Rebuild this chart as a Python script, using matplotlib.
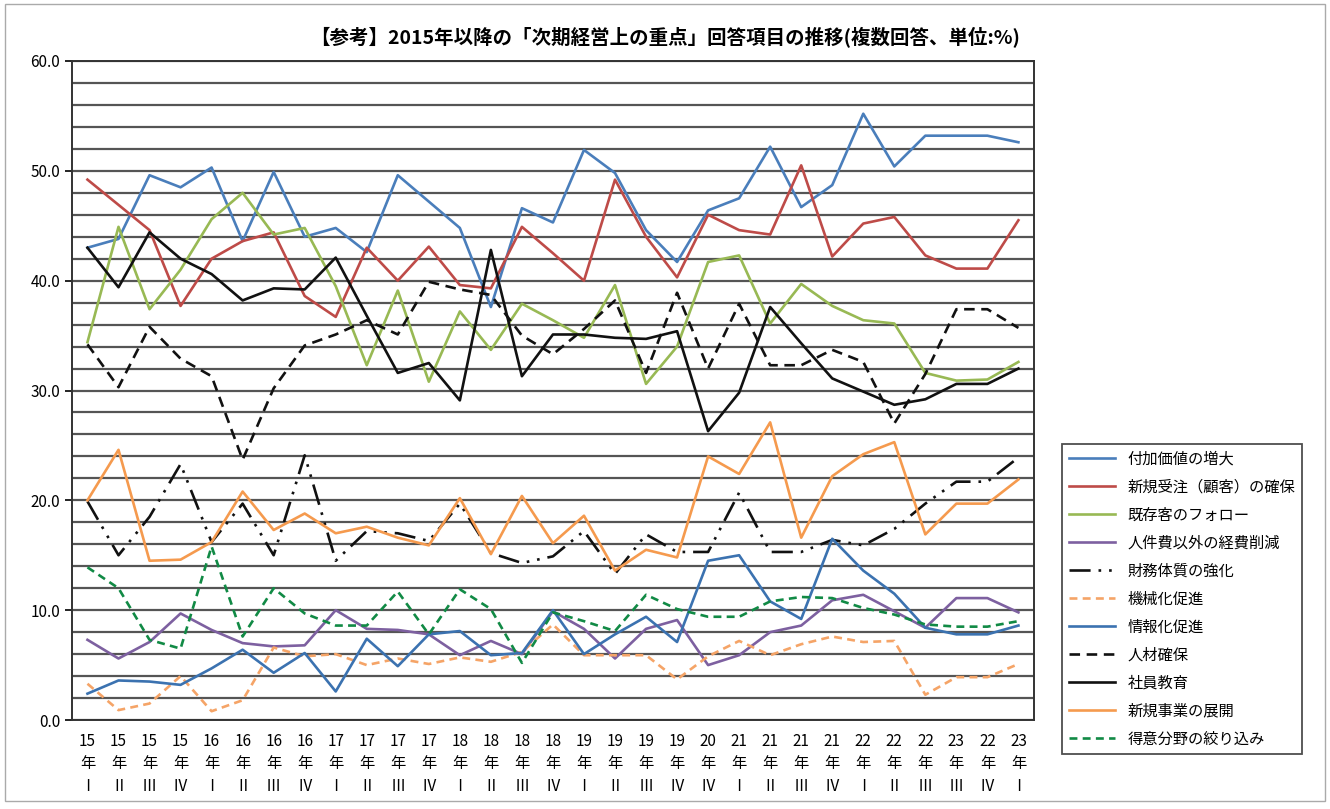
import matplotlib
matplotlib.use('Agg')
import matplotlib.pyplot as plt
import numpy as np

plt.rcParams['font.family'] = ['Noto Sans CJK JP', 'DejaVu Sans']

# 期（横軸）
years = ['15', '15', '15', '15', '16', '16', '16', '16', '17', '17', '17', '17',
         '18', '18', '18', '18', '19', '19', '19', '19', '20', '21', '21', '21',
         '21', '22', '22', '22', '23', '22', '23']
quarters = ['Ⅰ', 'Ⅱ', 'Ⅲ', 'Ⅳ', 'Ⅰ', 'Ⅱ', 'Ⅲ', 'Ⅳ', 'Ⅰ', 'Ⅱ', 'Ⅲ', 'Ⅳ',
            'Ⅰ', 'Ⅱ', 'Ⅲ', 'Ⅳ', 'Ⅰ', 'Ⅱ', 'Ⅲ', 'Ⅳ', 'Ⅳ', 'Ⅰ', 'Ⅱ', 'Ⅲ',
            'Ⅳ', 'Ⅰ', 'Ⅱ', 'Ⅲ', 'Ⅲ', 'Ⅳ', 'Ⅰ']

# 各項目（%）
fuka_kachi = [43.0, 43.8, 49.6, 48.5, 50.3, 43.6, 49.9, 44.0, 44.8, 42.6, 49.6, 47.2,
              44.8, 37.6, 46.6, 45.3, 51.9, 49.8, 44.6, 41.7, 46.4, 47.5, 52.2, 46.7,
              48.7, 55.2, 50.4, 53.2, 53.2, 53.2, 52.6]
shinki_juchu = [49.2, 46.9, 44.6, 37.7, 42.0, 43.6, 44.4, 38.6, 36.7, 43.0, 40.0, 43.1,
                39.6, 39.3, 44.9, 42.5, 40.0, 49.2, 44.0, 40.3, 46.0, 44.6, 44.2, 50.5,
                42.2, 45.2, 45.8, 42.3, 41.1, 41.1, 45.5]
kizon_kyaku = [34.4, 44.9, 37.4, 41.0, 45.6, 48.0, 44.2, 44.8, 39.5, 32.3, 39.1, 30.8,
               37.2, 33.7, 37.9, 36.4, 34.8, 39.6, 30.6, 34.0, 41.7, 42.3, 36.1, 39.7,
               37.7, 36.4, 36.1, 31.6, 30.9, 31.0, 32.6]
keihi_sakugen = [7.3, 5.6, 7.1, 9.7, 8.2, 7.0, 6.7, 6.8, 10.0, 8.3, 8.2, 7.8,
                 5.9, 7.2, 6.0, 9.9, 8.3, 5.6, 8.3, 9.1, 5.0, 5.9, 8.0, 8.6,
                 10.9, 11.4, 9.9, 8.4, 11.1, 11.1, 9.8]
zaimu = [19.9, 15.0, 18.5, 23.3, 16.2, 19.7, 15.0, 24.1, 14.5, 17.2, 17.0, 16.3,
         19.7, 15.2, 14.3, 14.9, 17.2, 13.3, 16.9, 15.3, 15.3, 20.7, 15.3, 15.3,
         16.4, 15.9, 17.4, 19.7, 21.7, 21.7, 23.9]
kikaika = [3.3, 0.9, 1.5, 4.0, 0.8, 1.8, 6.6, 5.8, 6.0, 5.0, 5.6, 5.1,
           5.7, 5.3, 6.2, 8.7, 5.9, 5.9, 5.9, 3.7, 5.8, 7.2, 5.9, 6.9,
           7.6, 7.1, 7.2, 2.3, 3.9, 3.9, 5.1]
johoka = [2.4, 3.6, 3.5, 3.2, 4.7, 6.4, 4.3, 6.1, 2.6, 7.4, 4.9, 7.8,
          8.1, 5.9, 6.1, 10.0, 6.0, 7.8, 9.4, 7.1, 14.5, 15.0, 10.8, 9.2,
          16.5, 13.6, 11.5, 8.4, 7.8, 7.8, 8.6]
jinzai = [34.2, 30.3, 35.8, 32.9, 31.3, 23.7, 30.2, 34.1, 35.1, 36.4, 35.1, 39.9,
          39.2, 38.7, 35.0, 33.3, 35.6, 38.2, 31.6, 38.9, 32.0, 37.9, 32.3, 32.3,
          33.7, 32.6, 27.0, 31.5, 37.4, 37.4, 35.7]
shain_kyoiku = [43.0, 39.4, 44.4, 42.0, 40.6, 38.2, 39.3, 39.2, 42.1, 36.8, 31.6, 32.5,
                29.1, 42.8, 31.3, 35.1, 35.1, 34.8, 34.7, 35.4, 26.3, 29.8, 37.6, 34.3,
                31.1, 29.9, 28.7, 29.2, 30.6, 30.6, 32.0]
shinki_jigyo = [20.0, 24.6, 14.5, 14.6, 16.2, 20.8, 17.3, 18.8, 17.0, 17.6, 16.6, 15.9,
                20.2, 15.1, 20.4, 16.1, 18.6, 13.6, 15.5, 14.8, 24.0, 22.4, 27.1, 16.6,
                22.2, 24.2, 25.3, 16.9, 19.7, 19.7, 21.9]
tokui_bunya = [13.9, 12.0, 7.3, 6.5, 15.8, 7.6, 12.0, 9.7, 8.6, 8.6, 11.7, 7.8,
               11.9, 10.1, 5.2, 9.8, 9.0, 8.1, 11.4, 10.1, 9.4, 9.4, 10.8, 11.2,
               11.1, 10.2, 9.6, 8.7, 8.5, 8.5, 9.0]

series = [
    ('付加価値の増大', fuka_kachi, '#4a7ebb', '-'),
    ('新規受注（顧客）の確保', shinki_juchu, '#be4b48', '-'),
    ('既存客のフォロー', kizon_kyaku, '#98b954', '-'),
    ('人件費以外の経費削減', keihi_sakugen, '#7d60a0', '-'),
    ('財務体質の強化', zaimu, '#111111', (0, (8, 3, 1, 3, 1, 3))),
    ('機械化促進', kikaika, '#f5a467', (0, (3, 2))),
    ('情報化促進', johoka, '#3b72b0', '-'),
    ('人材確保', jinzai, '#111111', (0, (4, 2.5))),
    ('社員教育', shain_kyoiku, '#111111', '-'),
    ('新規事業の展開', shinki_jigyo, '#f59a4e', '-'),
    ('得意分野の絞り込み', tokui_bunya, '#118a45', (0, (3, 2))),
]

fig = plt.figure(figsize=(13.3, 8.09), dpi=100)
ax = fig.add_axes([0.0541, 0.110, 0.7233, 0.8146])

x = np.arange(len(years))
for label, vals, color, ls in series:
    ax.plot(x, vals, color=color, linestyle=ls, linewidth=1.9, label=label)

ax.set_xlim(-0.5, len(years) - 0.5)
ax.set_ylim(0, 60)
ax.set_yticks(np.arange(0, 61, 10))
ax.set_yticklabels([f'{v:.1f}' for v in range(0, 61, 10)], fontsize=11)
ax.set_yticks(np.arange(0, 61, 2), minor=True)
ax.grid(True, axis='y', which='both', color='#555555', linewidth=1.6)
ax.set_axisbelow(True)
ax.tick_params(axis='y', which='minor', length=0)
ax.tick_params(axis='y', which='major', length=5, width=1.2, direction='out')

ax.set_xticks(x)
ax.set_xticklabels([f'{y}\n年\n{q}' for y, q in zip(years, quarters)],
                   fontsize=11, linespacing=1.45)
ax.tick_params(axis='x', length=0, pad=9)

for side in ['left', 'right', 'bottom', 'top']:
    ax.spines[side].set_color('#333333')
    ax.spines[side].set_linewidth(1.4)

fig.text(0.50, 0.955, '【参考】2015年以降の「次期経営上の重点」回答項目の推移(複数回答、単位:%)',
         ha='center', va='center', fontsize=14, fontweight='bold')

leg = fig.legend(loc='upper left', bbox_to_anchor=(0.793, 0.461), fontsize=11,
                 handlelength=3.0, labelspacing=0.72, borderpad=0.45,
                 frameon=True, fancybox=False, edgecolor='#222222')
leg.get_frame().set_linewidth(1.3)

fig.patches.append(plt.Rectangle((0.004, 0.01), 0.992, 0.985, transform=fig.transFigure,
                                 fill=False, edgecolor='#aaaaaa', linewidth=1.0))

fig.savefig('out.png', dpi=100)
